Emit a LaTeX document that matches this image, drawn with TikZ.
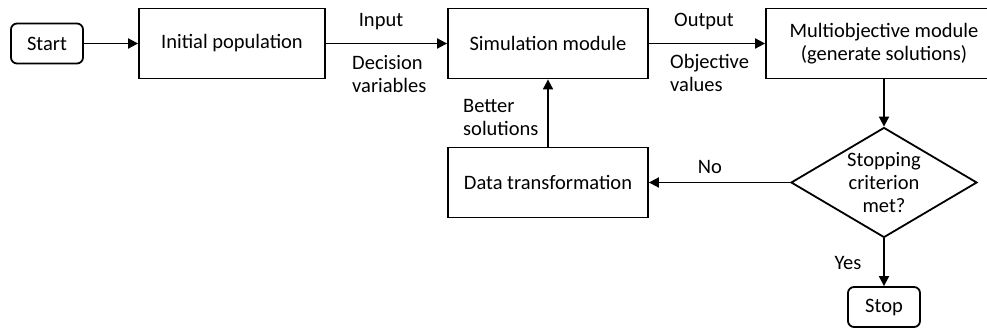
\documentclass[tikz,border=0pt]{standalone}
\usepackage{fontspec}
\setmainfont{Carlito}
\usetikzlibrary{shapes.geometric,arrows.meta}

\begin{document}
\begin{tikzpicture}[x=1pt,y=-1pt,
    font=\fontsize{20.5pt}{23pt}\selectfont,
    every node/.style={inner sep=0pt},
    block/.style={draw, line width=1.8pt, minimum width=#1, minimum height=70pt, align=center},
    term/.style={draw, line width=1.8pt, rounded corners=6pt, minimum width=72pt, minimum height=40pt},
    decide/.style={draw, line width=1.8pt, diamond, aspect=1.7, minimum width=186pt, minimum height=110pt, align=center},
    flow/.style={line width=1.8pt, -{Triangle[length=10pt,width=10pt]}},
    lbl/.style={align=left}]

    \useasboundingbox (0,0) rectangle (987,329);

    % Caixas
    \node[term] (start) at (47,43.5) {Start};
    \node[block=186pt] (init) at (232,43.5) {Initial population};
    \node[block=200pt] (sim) at (548,43.5) {Simulation module};
    \node[block=236pt] (multi) at (884,43.5) {Multiobjective module\\(generate solutions)};
    \node[decide] (crit) at (884,182.5) {Stopping\\criterion\\met?};
    \node[block=200pt] (trans) at (548,182.5) {Data transformation};
    \node[term] (stop) at (884,307) {Stop};

    % Ligações
    \draw[flow] (start) -- (init);
    \draw[flow] (init) -- (sim);
    \draw[flow] (sim) -- (multi.west |- sim.east);
    \draw[flow] (multi) -- (crit);
    \draw[flow] (crit) -- (trans);
    \draw[flow] (trans) -- (sim);
    \draw[flow] (crit) -- (stop);

    % Rótulos
    \node (in) at (381,22) {Input};
    \node[lbl, anchor=west] (dv) at (352,74) {Decision\\variables};
    \node (out) at (704,22) {Output};
    \node[lbl, anchor=west] (ov) at (670,73) {Objective\\values};
    \node[lbl, anchor=west] (better) at (463,117) {Better\\solutions};
    \node (no) at (710,167) {No};
    \node (yes) at (848,263) {Yes};

\end{tikzpicture}
\end{document}
